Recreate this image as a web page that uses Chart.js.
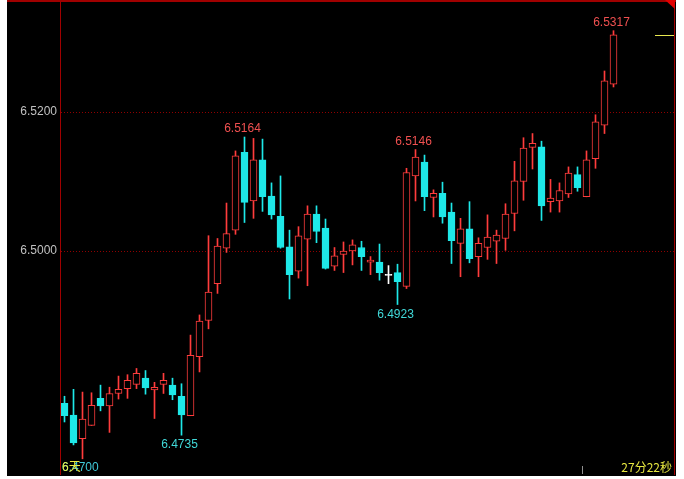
<!DOCTYPE html>
<html>
<head>
<meta charset="utf-8">
<script src="https://cdn.jsdelivr.net/npm/chart.js@4.4.0/dist/chart.umd.min.js"></script>
<style>
html, body { margin: 0; padding: 0; background: #fff; }
canvas { display: block; }
</style>
</head>
<body>
<canvas id="kline" width="684" height="479"></canvas>
<script>
// one value per candle, left to right (62 bars)
const opens  = [6.4781, 6.4764, 6.4730, 6.4749, 6.4788, 6.4777, 6.4795, 6.4802, 6.4808, 6.4817,
                6.4800, 6.4808, 6.4807, 6.4791, 6.4763, 6.4848, 6.4900, 6.4953, 6.5004, 6.5030,
                6.5142, 6.5072, 6.5131, 6.5079, 6.5050, 6.5006, 6.4971, 6.5017, 6.5053, 6.5033,
                6.4978, 6.4995, 6.5000, 6.5005, 6.4984, 6.4984, 6.4965, 6.4969, 6.4949, 6.5108,
                6.5128, 6.5077, 6.5083, 6.5056, 6.5011, 6.5032, 6.4992, 6.5005, 6.5014, 6.5018,
                6.5054, 6.5100, 6.5149, 6.5150, 6.5071, 6.5072, 6.5082, 6.5110, 6.5078, 6.5133,
                6.5181, 6.5240];
const highs  = [6.4791, 6.4801, 6.4797, 6.4796, 6.4807, 6.4804, 6.4820, 6.4822, 6.4831, 6.4828,
                6.4811, 6.4824, 6.4817, 6.4809, 6.4879, 6.4908, 6.5022, 6.5018, 6.5069, 6.5144,
                6.5164, 6.5162, 6.5161, 6.5098, 6.5108, 6.5030, 6.5035, 6.5065, 6.5065, 6.5046,
                6.5005, 6.5013, 6.5016, 6.5014, 6.4992, 6.5010, 6.4979, 6.4981, 6.5119, 6.5146,
                6.5138, 6.5088, 6.5099, 6.5069, 6.5047, 6.5071, 6.5019, 6.5052, 6.5030, 6.5068,
                6.5129, 6.5163, 6.5169, 6.5158, 6.5103, 6.5098, 6.5121, 6.5121, 6.5144, 6.5196,
                6.5259, 6.5317];
const lows   = [6.4754, 6.4721, 6.4701, 6.4749, 6.4770, 6.4739, 6.4787, 6.4788, 6.4802, 6.4794,
                6.4759, 6.4795, 6.4786, 6.4735, 6.4763, 6.4826, 6.4888, 6.4939, 6.4998, 6.5024,
                6.5041, 6.5047, 6.5057, 6.5046, 6.5004, 6.4931, 6.4961, 6.4950, 6.5012, 6.4974,
                6.4972, 6.4969, 6.4980, 6.4972, 6.4966, 6.4958, 6.4953, 6.4923, 6.4946, 6.5072,
                6.5058, 6.5049, 6.5040, 6.4982, 6.4963, 6.4983, 6.4963, 6.4988, 6.4982, 6.5001,
                6.5029, 6.5073, 6.5118, 6.5044, 6.5056, 6.5056, 6.5077, 6.5086, 6.5078, 6.5119,
                6.5169, 6.5236];
const closes = [6.4763, 6.4724, 6.4758, 6.4778, 6.4777, 6.4795, 6.4801, 6.4814, 6.4824, 6.4803,
                6.4804, 6.4814, 6.4793, 6.4764, 6.4850, 6.4899, 6.4941, 6.5007, 6.5025, 6.5137,
                6.5070, 6.5131, 6.5078, 6.5052, 6.5005, 6.4966, 6.5022, 6.5053, 6.5028, 6.4975,
                6.4993, 6.5000, 6.5009, 6.4992, 6.4987, 6.4969, 6.4965, 6.4956, 6.5113, 6.5135,
                6.5078, 6.5083, 6.5049, 6.5015, 6.5032, 6.4989, 6.5011, 6.5020, 6.5023, 6.5053,
                6.5101, 6.5148, 6.5155, 6.5065, 6.5076, 6.5087, 6.5112, 6.5091, 6.5131, 6.5186,
                6.5245, 6.5311];

const yTicks = [6.50, 6.52];
// bars (1-based) whose high / low gets a value label
const highMarks = [21, 40, 62];
const lowMarks = [14, 38];
const bottomPrice = '6.4700';
const bottomTag = '6天';
const timeLeft = '27分22秒';

const upColor = '#ff3c3c';
const downColor = '#1ee8e8';
const flatColor = '#ffffff';
const font = '"Liberation Sans", Arial, sans-serif';

let candleColors = [];
let bodyFill = [];
for (let i = 0; i < opens.length; i++) {
    if (closes[i] > opens[i]) {
        candleColors.push(upColor);
        bodyFill.push('#000000');
    } else if (closes[i] < opens[i]) {
        candleColors.push(downColor);
        bodyFill.push(downColor);
    } else {
        candleColors.push(flatColor);
        bodyFill.push(flatColor);
    }
}

let bodies = opens.map((o, i) => ({ x: i + 1, y: [o, closes[i]] }));
let wicks = lows.map((l, i) => ({ x: i + 1, y: [l, highs[i]] }));

const decor = {
    id: 'decor',
    beforeDraw(chart) {
        const ctx = chart.ctx;
        ctx.save();
        ctx.fillStyle = '#000';
        ctx.fillRect(7, 0, 669, 476);
        ctx.restore();
    },
    beforeDatasetsDraw(chart) {
        const { ctx, chartArea: a, scales: { y } } = chart;
        ctx.save();
        ctx.strokeStyle = '#900000';
        ctx.lineWidth = 1;
        ctx.setLineDash([1, 2]);
        y.ticks.forEach(t => {
            const py = Math.round(y.getPixelForValue(t.value)) + 0.5;
            ctx.beginPath();
            ctx.moveTo(a.left, py);
            ctx.lineTo(a.right, py);
            ctx.stroke();
        });
        ctx.restore();
    },
    afterDatasetsDraw(chart) {
        const { ctx, chartArea: a, scales: { x, y } } = chart;
        ctx.save();

        // frame
        ctx.strokeStyle = '#a00000';
        ctx.lineWidth = 1;
        ctx.beginPath();
        ctx.moveTo(a.left - 0.5, 0);
        ctx.lineTo(a.left - 0.5, a.bottom);
        ctx.moveTo(a.right + 0.5, 0);
        ctx.lineTo(a.right + 0.5, a.bottom);
        ctx.stroke();
        ctx.lineWidth = 2;
        ctx.beginPath();
        ctx.moveTo(7, 1);
        ctx.lineTo(676, 1);
        ctx.stroke();

        // corner triangle
        ctx.fillStyle = '#e00000';
        ctx.beginPath();
        ctx.moveTo(a.right - 9, 0);
        ctx.lineTo(a.right + 1, 0);
        ctx.lineTo(a.right + 1, 9);
        ctx.closePath();
        ctx.fill();

        // last price marker
        const last = closes.length - 1;
        const py = Math.round(y.getPixelForValue(closes[last])) + 0.5;
        ctx.strokeStyle = '#e8e850';
        ctx.lineWidth = 1;
        ctx.beginPath();
        ctx.moveTo(655, py);
        ctx.lineTo(a.right, py);
        ctx.stroke();

        // high / low value labels
        ctx.font = '12px ' + font;
        ctx.textAlign = 'center';
        ctx.textBaseline = 'alphabetic';
        ctx.fillStyle = '#f05050';
        highMarks.forEach(n => {
            const px = x.getPixelForValue(n) - 2;
            ctx.fillText(highs[n - 1].toFixed(4), px, y.getPixelForValue(highs[n - 1]) - 5);
        });
        ctx.fillStyle = '#40d8d8';
        lowMarks.forEach(n => {
            const px = x.getPixelForValue(n) - 2;
            ctx.fillText(lows[n - 1].toFixed(4), px, y.getPixelForValue(lows[n - 1]) + 13);
        });

        // bottom row texts
        ctx.textAlign = 'left';
        ctx.fillStyle = '#40c8d8';
        ctx.fillText(bottomPrice, a.left + 1, 471);
        ctx.fillStyle = '#e8e840';
        ctx.font = '12px ' + font + ', "Noto Sans CJK SC"';
        ctx.fillText(bottomTag, a.left + 1, 471);
        ctx.textAlign = 'right';
        ctx.fillStyle = '#e8e840';
        ctx.font = '12px "Noto Sans CJK SC", sans-serif';
        ctx.fillText(timeLeft, a.right - 2, 472);

        ctx.strokeStyle = '#909090';
        ctx.beginPath();
        ctx.moveTo(582.5, 466);
        ctx.lineTo(582.5, 474);
        ctx.stroke();

        ctx.restore();
    }
};

var ctx = document.getElementById('kline').getContext('2d');
var chart = new Chart(ctx, {
    type: 'bar',
    data: {
        datasets: [{
            data: bodies,
            order: 0,
            grouped: false,
            barThickness: 7,
            minBarLength: 1,
            borderWidth: 1,
            borderSkipped: false,
            backgroundColor: bodyFill,
            borderColor: candleColors
        }, {
            data: wicks,
            order: 1,
            grouped: false,
            barThickness: 1,
            minBarLength: 1,
            borderWidth: 0,
            backgroundColor: candleColors
        }]
    },
    options: {
        responsive: false,
        animation: false,
        devicePixelRatio: 1,
        events: [],
        layout: { padding: { left: 0, right: 10, top: 1, bottom: 4 } },
        plugins: {
            legend: { display: false },
            tooltip: { enabled: false }
        },
        scales: {
            x: {
                type: 'linear',
                min: 0.61111,
                max: 68.72222,
                offset: false,
                display: false
            },
            y: {
                type: 'linear',
                position: 'left',
                min: 6.467770,
                max: 6.535971,
                grid: { display: false, drawTicks: false },
                border: { display: false },
                afterBuildTicks: s => { s.ticks = yTicks.map(v => ({ value: v })); },
                afterFit: s => {
                    s.width = 61;
                    // keep the plot area at the padding box (no room kept for half labels)
                    s.paddingTop = 0;
                    s.paddingBottom = 0;
                },
                ticks: {
                    padding: 4,
                    color: '#c0c0c0',
                    font: { family: font, size: 12 },
                    callback: v => v.toFixed(4)
                }
            }
        }
    },
    plugins: [decor]
});
</script>
</body>
</html>
